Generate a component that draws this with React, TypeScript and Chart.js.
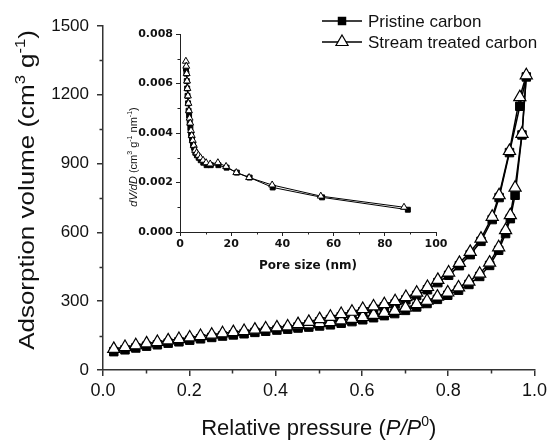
import React, { useEffect, useRef } from 'react';
import { Chart, registerables } from 'chart.js';

Chart.register(...registerables);

// ---------- Main isotherm data ----------
const seriesNames = ['Pristine carbon', 'Stream treated carbon'];

const pressureAds = [
  0.025, 0.051, 0.076, 0.101, 0.126, 0.151, 0.176, 0.201, 0.226, 0.252, 0.277, 0.302, 0.327, 0.352,
  0.377, 0.403, 0.428, 0.452, 0.477, 0.502, 0.527, 0.552, 0.577, 0.602, 0.627, 0.652, 0.676, 0.701,
  0.727, 0.751, 0.775, 0.799, 0.824, 0.848, 0.873, 0.896, 0.917, 0.933, 0.944, 0.955, 0.971, 0.981,
];
const streamAds = [
  92, 100, 108, 116, 122, 129, 135, 142, 148, 154, 160, 165, 170, 176,
  181, 186, 190, 195, 199, 204, 209, 216, 223, 231, 240, 249, 258, 272,
  287, 302, 320, 338, 360, 385, 420, 468, 535, 610, 675, 795, 1030, 1285,
];
const pristineAds = [
  80, 88, 96, 104, 110, 117, 123, 130, 136, 142, 148, 153, 158, 164,
  169, 174, 178, 183, 187, 192, 197, 204, 211, 219, 228, 237, 246, 260,
  275, 290, 308, 326, 348, 373, 408, 456, 522, 595, 660, 762, 1025, 1278,
];

const pressureDes = [
  0.966, 0.942, 0.918, 0.902, 0.876, 0.851, 0.826, 0.801, 0.776, 0.752, 0.727, 0.702, 0.677,
  0.652, 0.627, 0.602, 0.577, 0.552, 0.527, 0.502, 0.477, 0.452,
];
const streamDes = [
  1190, 955, 762, 668, 573, 515, 467, 425, 393, 362, 337, 318, 300,
  287, 277, 266, 254, 244, 232, 222, 210, 200,
];
const pristineDes = [
  1150, 948, 752, 656, 561, 503, 455, 413, 381, 350, 325, 306, 288,
  275, 265, 254, 242, 232, 220, 210, 198, 188,
];

const xTicksMain = [0, 0.2, 0.4, 0.6, 0.8, 1.0];
const yTicksMain = [0, 300, 600, 900, 1200, 1500];

// ---------- Inset pore size distribution ----------
const poreStream = [
  2.3, 2.45, 2.6, 2.75, 2.9, 3.1, 3.3, 3.5, 3.75, 4.0, 4.3, 4.6, 5.0, 5.4, 5.9, 6.5, 7.2, 8.0, 9.0,
  10.2, 11.8, 14.8, 18.0, 22.0, 27.0, 36.0, 55.0, 87.5,
];
const dvStream = [
  0.0069, 0.0067, 0.0064, 0.0061, 0.0058, 0.0055, 0.0052, 0.0049, 0.0046, 0.0044, 0.0041, 0.0039,
  0.0037, 0.0035, 0.0033, 0.0032, 0.0031, 0.003, 0.0029, 0.0028, 0.00275, 0.0028, 0.00265, 0.0024,
  0.0022, 0.0019, 0.00145, 0.001,
];
const porePristine = [
  2.35, 2.5, 2.65, 2.8, 2.95, 3.15, 3.35, 3.55, 3.8, 4.05, 4.35, 4.7, 5.1, 5.5, 6.0, 6.6, 7.3, 8.1,
  9.1, 10.4, 12.0, 15.0, 18.2, 22.2, 27.2, 36.2, 55.5, 89.0,
];
const dvPristine = [
  0.0066, 0.0064, 0.0061, 0.0058, 0.0055, 0.0052, 0.0049, 0.0047, 0.0044, 0.0042, 0.0039, 0.0037,
  0.0035, 0.0034, 0.0032, 0.0031, 0.003, 0.0029, 0.0028, 0.0027, 0.0027, 0.0027, 0.0026, 0.0024,
  0.0022, 0.0018, 0.0014, 0.0009,
];
const xTicksInset = [0, 20, 40, 60, 80, 100];
const yTicksInset = [0, 0.002, 0.004, 0.006, 0.008];

// ---------- helpers ----------
type Seg = { t: string; italic?: boolean; sup?: boolean };
const SANS = '"Liberation Sans", Arial, sans-serif';
const BOLD_INSET = '"DejaVu Sans", sans-serif';

function drawRich(
  ctx: CanvasRenderingContext2D,
  segs: Seg[],
  x: number,
  y: number,
  size: number,
  family: string,
  weight = 'normal'
) {
  const fontFor = (s: Seg) =>
    `${s.italic ? 'italic ' : ''}${weight} ${s.sup ? Math.round(size * 0.62) : size}px ${family}`;
  let total = 0;
  const widths = segs.map((s) => {
    ctx.font = fontFor(s);
    const w = ctx.measureText(s.t).width;
    total += w;
    return w;
  });
  let cx = x - total / 2;
  ctx.textAlign = 'left';
  ctx.textBaseline = 'alphabetic';
  segs.forEach((s, i) => {
    ctx.font = fontFor(s);
    ctx.fillText(s.t, cx, s.sup ? y - size * 0.42 : y);
    cx += widths[i];
  });
}

function drawMarker(ctx: CanvasRenderingContext2D, style: string, x: number, y: number, r: number) {
  ctx.save();
  ctx.lineWidth = 1.2;
  ctx.strokeStyle = '#000';
  if (style === 'rect') {
    const s = r * Math.SQRT1_2;
    ctx.fillStyle = '#000';
    ctx.fillRect(x - s, y - s, 2 * s, 2 * s);
  } else {
    ctx.fillStyle = '#fff';
    ctx.beginPath();
    ctx.moveTo(x, y - r);
    ctx.lineTo(x + r * Math.sin(Math.PI * 2 / 3), y - r * Math.cos(Math.PI * 2 / 3));
    ctx.lineTo(x + r * Math.sin(Math.PI * 4 / 3), y - r * Math.cos(Math.PI * 4 / 3));
    ctx.closePath();
    ctx.fill();
    ctx.stroke();
  }
  ctx.restore();
}

function minorTicks(chart: any, xs: number[], ys: number[], len: number, color: string, lw: number) {
  const ctx = chart.ctx as CanvasRenderingContext2D;
  const xs_ = chart.scales.x;
  const ys_ = chart.scales.y;
  const { left, bottom } = chart.chartArea;
  ctx.save();
  ctx.strokeStyle = color;
  ctx.lineWidth = lw;
  ctx.beginPath();
  xs.forEach((v) => {
    const px = Math.round(xs_.getPixelForValue(v)) + 0.5;
    ctx.moveTo(px, bottom);
    ctx.lineTo(px, bottom + len);
  });
  ys.forEach((v) => {
    const py = Math.round(ys_.getPixelForValue(v)) + 0.5;
    ctx.moveTo(left, py);
    ctx.lineTo(left - len, py);
  });
  ctx.stroke();
  ctx.restore();
}

const mainDecor = {
  id: 'mainDecor',
  afterDraw(chart: any) {
    const ctx = chart.ctx as CanvasRenderingContext2D;
    const ca = chart.chartArea;
    minorTicks(chart, [0.1, 0.3, 0.5, 0.7, 0.9], [150, 450, 750, 1050, 1350], 3.5, '#333', 1.5);
    ctx.save();
    ctx.fillStyle = '#111';
    drawRich(
      ctx,
      [{ t: 'Relative pressure (' }, { t: 'P/P', italic: true }, { t: '0', sup: true }, { t: ')' }],
      (ca.left + ca.right) / 2,
      435,
      22,
      SANS
    );
    ctx.translate(34, 190);
    ctx.rotate(-Math.PI / 2);
    ctx.scale(1.18, 1);
    drawRich(
      ctx,
      [{ t: 'Adsorption volume (cm' }, { t: '3', sup: true }, { t: ' g' }, { t: '-1', sup: true }, { t: ')' }],
      0,
      0,
      22,
      SANS
    );
    ctx.restore();
    // legend
    const legendRows = [
      { name: seriesNames[0], style: 'rect', y: 21, base: 27 },
      { name: seriesNames[1], style: 'triangle', y: 42, base: 48 },
    ];
    ctx.save();
    legendRows.forEach((row) => {
      ctx.strokeStyle = '#000';
      ctx.lineWidth = 1.5;
      ctx.beginPath();
      ctx.moveTo(322, row.y);
      ctx.lineTo(362, row.y);
      ctx.stroke();
      drawMarker(ctx, row.style, 342, row.y, row.style === 'rect' ? 6 : 7);
      ctx.fillStyle = '#111';
      ctx.font = `17px ${SANS}`;
      ctx.textAlign = 'left';
      ctx.textBaseline = 'alphabetic';
      ctx.fillText(row.name, 368, row.base);
    });
    ctx.restore();
  },
};

const insetDecor = {
  id: 'insetDecor',
  afterDraw(chart: any) {
    const ctx = chart.ctx as CanvasRenderingContext2D;
    const ca = chart.chartArea;
    minorTicks(chart, [10, 30, 50, 70, 90], [0.001, 0.003, 0.005, 0.007], 2.5, '#222', 1);
    ctx.save();
    ctx.fillStyle = '#111';
    ctx.font = `bold 12px ${BOLD_INSET}`;
    ctx.textAlign = 'center';
    ctx.textBaseline = 'alphabetic';
    ctx.fillText('Pore size (nm)', (ca.left + ca.right) / 2, 249);
    ctx.translate(37, 137);
    ctx.rotate(-Math.PI / 2);
    drawRich(
      ctx,
      [
        { t: 'dV/dD', italic: true },
        { t: ' (cm' },
        { t: '3', sup: true },
        { t: ' g' },
        { t: '-1', sup: true },
        { t: ' nm' },
        { t: '-1', sup: true },
        { t: ')' },
      ],
      0,
      0,
      11,
      SANS
    );
    ctx.restore();
  },
};

function loop(ads: number[], des: number[]) {
  return pressureAds
    .map((p, i) => ({ x: p, y: ads[i] }))
    .concat(pressureDes.map((p, i) => ({ x: p, y: des[i] })));
}

export default function App() {
  const mainRef = useRef<HTMLCanvasElement>(null);
  const insetRef = useRef<HTMLCanvasElement>(null);

  useEffect(() => {
    const main = new Chart(mainRef.current!, {
      type: 'scatter',
      data: {
        datasets: [
          {
            label: seriesNames[1],
            data: loop(streamAds, streamDes),
            showLine: true,
            borderColor: '#000',
            borderWidth: 1.5,
            pointStyle: 'triangle',
            pointRadius: 7,
            pointBackgroundColor: '#fff',
            pointBorderColor: '#000',
            pointBorderWidth: 1.2,
          },
          {
            label: seriesNames[0],
            data: loop(pristineAds, pristineDes),
            showLine: true,
            borderColor: '#000',
            borderWidth: 1.5,
            pointStyle: 'rect',
            pointRadius: 6,
            pointBackgroundColor: '#000',
            pointBorderColor: '#000',
            pointBorderWidth: 1,
          },
        ],
      },
      options: {
        animation: false,
        responsive: false,
        layout: { padding: { top: 26, right: 16, left: 0, bottom: 0 } },
        plugins: { legend: { display: false }, tooltip: { enabled: false } },
        scales: {
          x: {
            type: 'linear',
            min: xTicksMain[0],
            max: xTicksMain[xTicksMain.length - 1],
            afterFit: (s: any) => { s.height = 70; },
            afterBuildTicks: (s: any) => { s.ticks = xTicksMain.map((v) => ({ value: v })); },
            ticks: {
              callback: (v: any) => Number(v).toFixed(1),
              color: '#111',
              font: { size: 18, family: SANS },
              padding: 4,
              maxRotation: 0,
            },
            grid: { drawOnChartArea: false, drawTicks: true, tickLength: 6, color: '#333', lineWidth: 1.5 },
            border: { display: true, color: '#333', width: 1.5 },
          },
          y: {
            type: 'linear',
            min: yTicksMain[0],
            max: yTicksMain[yTicksMain.length - 1],
            afterFit: (s: any) => { s.width = 103; },
            afterBuildTicks: (s: any) => { s.ticks = yTicksMain.map((v) => ({ value: v })); },
            ticks: {
              callback: (v: any) => String(v),
              color: '#111',
              font: { size: 17, family: SANS },
              padding: 8,
            },
            grid: { drawOnChartArea: false, drawTicks: true, tickLength: 6, color: '#333', lineWidth: 1.5 },
            border: { display: true, color: '#333', width: 1.5 },
          },
        },
      },
      plugins: [mainDecor],
    });

    const inset = new Chart(insetRef.current!, {
      type: 'scatter',
      data: {
        datasets: [
          {
            label: seriesNames[1],
            data: poreStream.map((p, i) => ({ x: p, y: dvStream[i] })),
            showLine: true,
            borderColor: '#000',
            borderWidth: 1,
            pointStyle: 'triangle',
            pointRadius: 4,
            pointBackgroundColor: '#fff',
            pointBorderColor: '#000',
            pointBorderWidth: 1,
          },
          {
            label: seriesNames[0],
            data: porePristine.map((p, i) => ({ x: p, y: dvPristine[i] })),
            showLine: true,
            borderColor: '#000',
            borderWidth: 1,
            pointStyle: 'rect',
            pointRadius: 3.5,
            pointBackgroundColor: '#000',
            pointBorderColor: '#000',
            pointBorderWidth: 1,
          },
        ],
      },
      options: {
        animation: false,
        responsive: false,
        layout: { padding: { top: 14, right: 14, left: 0, bottom: 0 } },
        plugins: { legend: { display: false }, tooltip: { enabled: false } },
        scales: {
          x: {
            type: 'linear',
            min: 0,
            max: 100,
            afterFit: (s: any) => { s.height = 48; },
            afterBuildTicks: (s: any) => { s.ticks = xTicksInset.map((v) => ({ value: v })); },
            ticks: {
              callback: (v: any) => String(v),
              color: '#111',
              font: { size: 11, family: BOLD_INSET, weight: 'bold' },
              padding: 2,
              maxRotation: 0,
            },
            grid: { drawOnChartArea: false, drawTicks: true, tickLength: 4, color: '#222', lineWidth: 1 },
            border: { display: true, color: '#222', width: 1 },
          },
          y: {
            type: 'linear',
            min: 0,
            max: 0.008,
            afterFit: (s: any) => { s.width = 80; },
            afterBuildTicks: (s: any) => { s.ticks = yTicksInset.map((v) => ({ value: v })); },
            ticks: {
              callback: (v: any) => Number(v).toFixed(3),
              color: '#111',
              font: { size: 11, family: BOLD_INSET, weight: 'bold' },
              padding: 3,
            },
            grid: { drawOnChartArea: false, drawTicks: true, tickLength: 4, color: '#222', lineWidth: 1 },
            border: { display: true, color: '#222', width: 1 },
          },
        },
      },
      plugins: [insetDecor],
    });

    return () => {
      main.destroy();
      inset.destroy();
    };
  }, []);

  return (
    <div style={{ position: 'absolute', left: 0, top: 0, width: 551, height: 440, background: '#fff' }}>
      <canvas ref={mainRef} width={551} height={440} style={{ position: 'absolute', left: 0, top: 0 }} />
      <canvas ref={insetRef} width={350} height={260} style={{ position: 'absolute', left: 100, top: 20 }} />
    </div>
  );
}
